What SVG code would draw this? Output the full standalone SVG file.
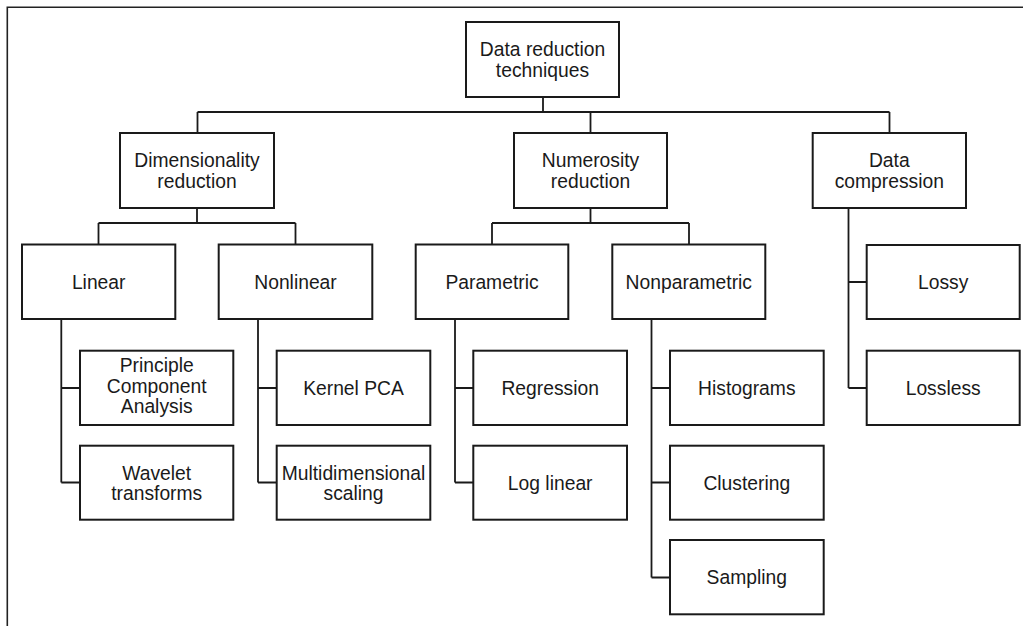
<svg xmlns="http://www.w3.org/2000/svg" width="1023" height="626" viewBox="0 0 1023 626">
<style>
.box rect{fill:#fff;stroke:#1a1a1a;stroke-width:2}
.box text{font-family:"Liberation Sans",Arial,sans-serif;font-size:19.3px;fill:#1a1a1a;text-anchor:middle}
#connectors path{fill:none;stroke:#1a1a1a;stroke-width:1.8}
#frame path{fill:none;stroke:#222;stroke-width:1.6}
</style>
<rect width="1023" height="626" fill="#fff"/>
<g id="frame"><path d="M1023,7.3 H7.3 V626"/></g>
<g id="connectors">
<path d="M543,97 V112 M197.5,112 H889.5 M197.5,112 V133 M590.5,112 V133 M889.5,112 V133"/>
<path d="M197,208 V223 M98.5,223 H295.5 M98.5,223 V244.5 M295.5,223 V244.5"/>
<path d="M590.5,208 V223 M492,223 H689 M492,223 V244.5 M689,223 V244.5"/>
<path d="M848.5,208 V388 M848.5,282 H866.5 M848.5,388 H866.5"/>
<path d="M61.3,319 V482.5 M61.3,388 H80 M61.3,482.5 H80"/>
<path d="M258,319 V482.5 M258,388 H276.5 M258,482.5 H276.5"/>
<path d="M455,319 V482.5 M455,388 H473.5 M455,482.5 H473.5"/>
<path d="M651.5,319 V577.5 M651.5,388 H670 M651.5,482.5 H670 M651.5,577.5 H670"/>
</g>
<g id="root" class="box"><rect x="466" y="22" width="153" height="75"/><text x="542.5" y="56.3">Data reduction</text><text x="542.5" y="76.8">techniques</text></g>
<g id="dimensionality" class="box"><rect x="120" y="133" width="154" height="75"/><text x="197" y="167.3">Dimensionality</text><text x="197" y="187.8">reduction</text></g>
<g id="numerosity" class="box"><rect x="514" y="133" width="153" height="75"/><text x="590.5" y="167.3">Numerosity</text><text x="590.5" y="187.8">reduction</text></g>
<g id="compression" class="box"><rect x="812.7" y="133" width="153.3" height="75"/><text x="889.3" y="167.3">Data</text><text x="889.3" y="187.8">compression</text></g>
<g id="linear" class="box"><rect x="22" y="244.5" width="153.3" height="74.5"/><text x="98.7" y="288.7">Linear</text></g>
<g id="nonlinear" class="box"><rect x="218.7" y="244.5" width="153.6" height="74.5"/><text x="295.5" y="288.7">Nonlinear</text></g>
<g id="parametric" class="box"><rect x="415.7" y="244.5" width="152.6" height="74.5"/><text x="492" y="288.7">Parametric</text></g>
<g id="nonparametric" class="box"><rect x="612.3" y="244.5" width="153" height="74.5"/><text x="688.8" y="288.7">Nonparametric</text></g>
<g id="lossy" class="box"><rect x="866.7" y="245" width="153" height="74"/><text x="943.2" y="289">Lossy</text></g>
<g id="pca" class="box"><rect x="80" y="350.7" width="153.3" height="74.3"/><text x="156.7" y="372">Principle</text><text x="156.7" y="392.7">Component</text><text x="156.7" y="413.3">Analysis</text></g>
<g id="wavelet" class="box"><rect x="80" y="445.7" width="153.3" height="74"/><text x="156.7" y="479.5">Wavelet</text><text x="156.7" y="500">transforms</text></g>
<g id="kernelpca" class="box"><rect x="276.7" y="350.7" width="153.6" height="74.3"/><text x="353.5" y="394.8">Kernel PCA</text></g>
<g id="mds" class="box"><rect x="276.7" y="445.7" width="153.6" height="74"/><text x="353.5" y="479.5">Multidimensional</text><text x="353.5" y="500">scaling</text></g>
<g id="regression" class="box"><rect x="473.3" y="350.7" width="153.7" height="74.3"/><text x="550.2" y="394.8">Regression</text></g>
<g id="loglinear" class="box"><rect x="473.3" y="445.7" width="153.7" height="74"/><text x="550.2" y="489.5">Log linear</text></g>
<g id="histograms" class="box"><rect x="670" y="350.7" width="153.7" height="74.3"/><text x="746.8" y="394.8">Histograms</text></g>
<g id="clustering" class="box"><rect x="670" y="445.7" width="153.7" height="74"/><text x="746.8" y="489.5">Clustering</text></g>
<g id="sampling" class="box"><rect x="670" y="540" width="153.7" height="74.3"/><text x="746.8" y="584.2">Sampling</text></g>
<g id="lossless" class="box"><rect x="866.7" y="350.7" width="153" height="74.3"/><text x="943.2" y="394.8">Lossless</text></g>
</svg>
